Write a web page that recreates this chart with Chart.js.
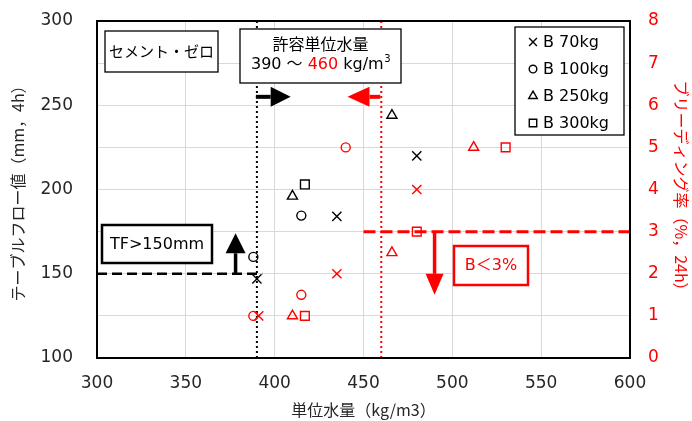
<!DOCTYPE html>
<html lang="ja">
<head>
<meta charset="UTF-8">
<title>単位水量とテーブルフロー値・ブリーディング率</title>
<script src="https://cdn.jsdelivr.net/npm/chart.js"></script>
<style>
  html, body { margin: 0; padding: 0; background: #fff; }
</style>
</head>
<body>
<canvas id="waterChart" width="692" height="421"></canvas>
<script>
// mix labels and marker per mix
const mixLabels = ['B 70kg', 'B 100kg', 'B 250kg', 'B 300kg'];
const mixMarkers = ['crossRot', 'circle', 'triangle', 'rect'];
const mixRadius = [6.5, 4.5, 5.8, 6.2];

// テーブルフロー値 (mm, 4h) -- left axis, black
const flowWater70 = [390, 435, 480];
const flowValue70 = [147, 184, 220];
const flowWater100 = [388, 415];
const flowValue100 = [160, 184.5];
const flowWater250 = [410, 466];
const flowValue250 = [196, 244];
const flowWater300 = [417];
const flowValue300 = [203];

// ブリーディング率 (%, 24h) -- right axis, red
const bleedWater70 = [391, 435, 480];
const bleedValue70 = [1, 2, 4];
const bleedWater100 = [388, 415, 440];
const bleedValue100 = [1, 1.5, 5];
const bleedWater250 = [410, 466, 512];
const bleedValue250 = [1, 2.5, 5];
const bleedWater300 = [417, 480, 530];
const bleedValue300 = [1, 3, 5];

// tick labels
const waterTicks = [300, 350, 400, 450, 500, 550, 600];
const flowTicks = [100, 150, 200, 250, 300];
const bleedTicks = [0, 1, 2, 3, 4, 5, 6, 7, 8];

// limits shown on the chart
const waterLimitLow = 390;
const waterLimitHigh = 460;
const flowTarget = 150;
const bleedLimit = 3;

const RED = '#ff0000';
const INK = '#262626';
const FONT = '"DejaVu Sans", "Noto Sans CJK JP", sans-serif';
const JFONT = '"Noto Sans CJK JP", sans-serif';

function toPoints(xs, ys) {
  return xs.map((x, i) => ({ x: x, y: ys[i] }));
}

const flowSets = [
  [flowWater70, flowValue70], [flowWater100, flowValue100],
  [flowWater250, flowValue250], [flowWater300, flowValue300]
];
const bleedSets = [
  [bleedWater70, bleedValue70], [bleedWater100, bleedValue100],
  [bleedWater250, bleedValue250], [bleedWater300, bleedValue300]
];

function makeSet(label, pair, i, axis, color) {
  return {
    label: label,
    data: toPoints(pair[0], pair[1]),
    yAxisID: axis,
    showLine: false,
    pointStyle: mixMarkers[i],
    pointRadius: mixRadius[i],
    pointHoverRadius: mixRadius[i],
    pointBorderWidth: 1.4,
    borderColor: color,
    backgroundColor: 'rgba(0,0,0,0)'
  };
}

const datasets = [];
flowSets.forEach((p, i) => datasets.push(makeSet(mixLabels[i] + ' フロー', p, i, 'yFlow', '#000')));
bleedSets.forEach((p, i) => datasets.push(makeSet(mixLabels[i] + ' ブリーディング', p, i, 'yBleed', RED)));

// --- drawing helpers for the annotations ---
function arrow(ctx, x1, y1, x2, y2, color, shaft, headLen, headHalf) {
  const ang = Math.atan2(y2 - y1, x2 - x1);
  const ux = Math.cos(ang), uy = Math.sin(ang);
  const bx = x2 - ux * headLen, by = y2 - uy * headLen;
  ctx.strokeStyle = color;
  ctx.fillStyle = color;
  ctx.lineWidth = shaft;
  ctx.setLineDash([]);
  ctx.beginPath();
  ctx.moveTo(x1, y1);
  ctx.lineTo(bx, by);
  ctx.stroke();
  ctx.beginPath();
  ctx.moveTo(x2, y2);
  ctx.lineTo(bx - uy * headHalf, by + ux * headHalf);
  ctx.lineTo(bx + uy * headHalf, by - ux * headHalf);
  ctx.closePath();
  ctx.fill();
}

function box(ctx, x, y, w, h, lw, color) {
  ctx.setLineDash([]);
  ctx.fillStyle = '#fff';
  ctx.fillRect(x, y, w, h);
  ctx.lineWidth = lw;
  ctx.strokeStyle = color;
  ctx.strokeRect(x, y, w, h);
}

function marker(ctx, style, x, y, r) {
  ctx.beginPath();
  if (style === 'crossRot') {
    const d = r * Math.SQRT1_2;
    ctx.moveTo(x - d, y - d); ctx.lineTo(x + d, y + d);
    ctx.moveTo(x + d, y - d); ctx.lineTo(x - d, y + d);
  } else if (style === 'circle') {
    ctx.arc(x, y, r, 0, Math.PI * 2);
  } else if (style === 'triangle') {
    ctx.moveTo(x, y - r);
    ctx.lineTo(x + r * 0.866, y + r * 0.5);
    ctx.lineTo(x - r * 0.866, y + r * 0.5);
    ctx.closePath();
  } else {
    const d = r * Math.SQRT1_2;
    ctx.rect(x - d, y - d, 2 * d, 2 * d);
  }
  ctx.stroke();
}

const annotate = {
  id: 'annotate',
  beforeDatasetsDraw(chart) {
    const { ctx, chartArea: a, scales } = chart;
    const x = scales.x, yf = scales.yFlow, yb = scales.yBleed;
    ctx.save();
    // allowed water range (dotted)
    ctx.lineWidth = 2;
    ctx.setLineDash([2, 3]);
    ctx.strokeStyle = '#000';
    ctx.beginPath();
    ctx.moveTo(x.getPixelForValue(waterLimitLow), a.top);
    ctx.lineTo(x.getPixelForValue(waterLimitLow), a.bottom);
    ctx.stroke();
    ctx.strokeStyle = RED;
    ctx.beginPath();
    ctx.moveTo(x.getPixelForValue(waterLimitHigh), a.top);
    ctx.lineTo(x.getPixelForValue(waterLimitHigh), a.bottom);
    ctx.stroke();

    // flow target (black dashed)
    ctx.lineWidth = 2.5;
    ctx.setLineDash([10, 5]);
    ctx.strokeStyle = '#000';
    ctx.beginPath();
    ctx.moveTo(a.left, yf.getPixelForValue(flowTarget));
    ctx.lineTo(x.getPixelForValue(393), yf.getPixelForValue(flowTarget));
    ctx.stroke();

    // bleeding limit (red dashed)
    ctx.lineWidth = 3;
    ctx.setLineDash([12, 5]);
    ctx.strokeStyle = RED;
    ctx.beginPath();
    ctx.moveTo(x.getPixelForValue(450), yb.getPixelForValue(bleedLimit));
    ctx.lineTo(a.right, yb.getPixelForValue(bleedLimit));
    ctx.stroke();
    ctx.restore();
  },
  afterDatasetsDraw(chart) {
    const { ctx, chartArea: a, scales } = chart;
    const x = scales.x, yf = scales.yFlow, yb = scales.yBleed;
    ctx.save();

    // arrows
    const ay = yf.getPixelForValue(255);
    arrow(ctx, x.getPixelForValue(waterLimitLow) - 1, ay, x.getPixelForValue(409), ay, '#000', 4, 20, 10);
    arrow(ctx, x.getPixelForValue(waterLimitHigh) - 1, ay, x.getPixelForValue(441), ay, RED, 4, 22, 10);
    arrow(ctx, x.getPixelForValue(378), yf.getPixelForValue(flowTarget) + 1, x.getPixelForValue(378), yf.getPixelForValue(174), '#000', 3.5, 20, 10);
    arrow(ctx, x.getPixelForValue(490), yb.getPixelForValue(bleedLimit), x.getPixelForValue(490), yb.getPixelForValue(1.5), RED, 3.5, 21, 9);

    // plot frame
    ctx.setLineDash([]);
    ctx.lineWidth = 2;
    ctx.strokeStyle = '#000';
    ctx.strokeRect(a.left, a.top, a.right - a.left, a.bottom - a.top);

    ctx.textAlign = 'center';
    ctx.textBaseline = 'middle';

    // セメント・ゼロ
    box(ctx, 105, 31, 113, 41, 1.3, '#000');
    ctx.fillStyle = '#000';
    ctx.font = '15px ' + JFONT;
    ctx.fillText('セメント・ゼロ', 161.5, 51.5);

    // 許容単位水量
    box(ctx, 240, 29, 161, 54, 1.3, '#000');
    ctx.fillStyle = '#000';
    ctx.font = '16px ' + JFONT;
    ctx.fillText('許容単位水量', 320.5, 44);
    ctx.font = '16px ' + FONT;
    const p1 = waterLimitLow + ' ～ ', p2 = String(waterLimitHigh), p3 = ' kg/m';
    const w1 = ctx.measureText(p1).width, w2 = ctx.measureText(p2).width, w3 = ctx.measureText(p3).width;
    ctx.font = '10px ' + FONT;
    const w4 = ctx.measureText('3').width;
    let tx = 320.5 - (w1 + w2 + w3 + w4) / 2;
    ctx.textAlign = 'left';
    ctx.font = '16px ' + FONT;
    ctx.fillStyle = '#000';
    ctx.fillText(p1, tx, 65); tx += w1;
    ctx.fillStyle = RED;
    ctx.fillText(p2, tx, 65); tx += w2;
    ctx.fillStyle = '#000';
    ctx.fillText(p3, tx, 65); tx += w3;
    ctx.font = '10px ' + FONT;
    ctx.fillText('3', tx + 0.5, 59);

    // legend
    box(ctx, 515, 27, 109, 108, 1.3, '#000');
    const rows = [42, 69, 96, 123];
    ctx.font = '16px ' + FONT;
    ctx.textAlign = 'left';
    mixLabels.forEach((lab, i) => {
      ctx.strokeStyle = '#000';
      ctx.lineWidth = 1.4;
      marker(ctx, mixMarkers[i], 533, rows[i], mixRadius[i] * 0.85);
      ctx.fillStyle = '#000';
      ctx.fillText(lab, 543, rows[i] + 1);
    });

    // TF>150mm
    box(ctx, 102, 225, 110, 38, 2.5, '#000');
    ctx.textAlign = 'center';
    ctx.fillStyle = '#000';
    ctx.font = '16px ' + FONT;
    ctx.fillText('TF>' + flowTarget + 'mm', 157, 245);

    // B<3%
    box(ctx, 454, 246, 74, 39, 2.5, RED);
    ctx.fillStyle = RED;
    ctx.font = '16px ' + FONT;
    ctx.fillText('B＜' + bleedLimit + '%', 491, 266);

    ctx.restore();
  }
};

const tickFont = { family: FONT, size: 17 };
const titleFont = { family: JFONT, size: 16 };

// fixed axis sizes so the plot area lands where the original one is
function fitY(width) {
  return s => { s.width = width; s.paddingTop = 0; s.paddingBottom = 0; };
}

new Chart(document.getElementById('waterChart'), {
  type: 'scatter',
  data: { datasets: datasets },
  options: {
    responsive: false,
    devicePixelRatio: 1,
    animation: false,
    layout: { padding: { top: 21, left: 0, right: 0, bottom: 0 } },
    plugins: {
      legend: { display: false },
      tooltip: { enabled: false }
    },
    scales: {
      x: {
        type: 'linear',
        position: 'bottom',
        min: waterTicks[0],
        max: waterTicks[waterTicks.length - 1],
        ticks: { stepSize: waterTicks[1] - waterTicks[0], color: INK, font: tickFont, padding: 15 },
        grid: { color: '#d9d9d9', drawTicks: false },
        border: { display: false },
        title: { display: true, text: '単位水量（kg/m3）', color: INK, font: titleFont, padding: { top: 0, bottom: 1 } },
        afterFit: s => { s.height = 63; }
      },
      yFlow: {
        type: 'linear',
        position: 'left',
        min: flowTicks[0],
        max: flowTicks[flowTicks.length - 1],
        ticks: { stepSize: flowTicks[1] - flowTicks[0], color: INK, font: tickFont, padding: 24 },
        grid: { display: false, drawTicks: false },
        border: { display: false },
        title: { display: true, text: 'テーブルフロー値（mm，4h）', color: INK, font: titleFont, padding: { top: 8, bottom: 0 } },
        afterFit: fitY(97)
      },
      yBleed: {
        type: 'linear',
        position: 'right',
        min: bleedTicks[0],
        max: bleedTicks[bleedTicks.length - 1],
        ticks: { stepSize: bleedTicks[1] - bleedTicks[0], color: RED, font: tickFont, padding: 18 },
        grid: { color: '#d9d9d9', drawTicks: false },
        border: { display: false },
        title: { display: true, text: 'ブリーディング率（%，24h）', color: RED, font: titleFont, padding: { top: 1, bottom: 0 } },
        afterFit: fitY(62)
      }
    }
  },
  plugins: [annotate]
});
</script>
</body>
</html>
